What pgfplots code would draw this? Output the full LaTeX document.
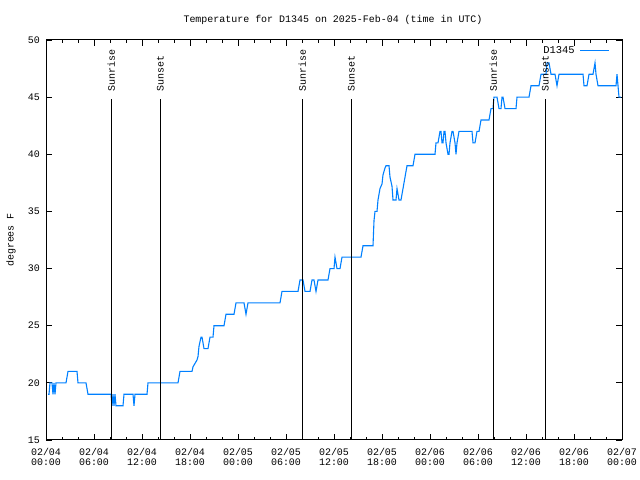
\documentclass[border=0pt]{standalone}
\usepackage{pgfplots}
\pgfplotsset{compat=1.18}
\usepackage{fontspec}
\setmainfont{Liberation Mono}
\definecolor{webblue}{RGB}{0,128,255}
\begin{document}
\begin{tikzpicture}[x=1bp,y=1bp]
\useasboundingbox (0,0) rectangle (640,480);
\begin{axis}[
  at={(46bp,40bp)}, anchor=south west, scale only axis,
  width=576bp, height=400bp,
  xmin=0, xmax=72, ymin=15, ymax=50,
  xtick={0,6,...,72}, minor x tick num=2,
  ytick={15,20,...,50},
  xticklabels={{02/04\\00:00},{02/04\\06:00},{02/04\\12:00},{02/04\\18:00},{02/05\\00:00},{02/05\\06:00},{02/05\\12:00},{02/05\\18:00},{02/06\\00:00},{02/06\\06:00},{02/06\\12:00},{02/06\\18:00},{02/07\\00:00}},
  xticklabel style={align=center, font=\fontsize{10}{10.5}\selectfont, inner sep=0pt, yshift=-8bp},
  yticklabel style={font=\fontsize{10}{10}\selectfont, inner sep=0pt, xshift=-6bp},
  /pgf/number format/assume math mode=true,
  tick align=inside, major tick length=6bp, minor tick length=3bp,
  tick style={black, line width=0.8bp},
  axis line style={line width=1bp},
  legend style={at={(1,1)}, anchor=north east, draw=none, fill=none, font=\fontsize{10.5}{10}\selectfont, inner sep=0pt, xshift=-12bp, yshift=-4bp},
  legend plot pos=right,
  legend cell align=right,
  legend image code/.code={\draw[#1] (0bp,0bp) -- (29bp,0bp);},
  clip=true,
]
\addplot[webblue, line width=1.1bp] table {
x y
0.25 19
0.375 19
0.5 20
0.75 20
0.875 19
1.0 20
1.125 19
1.25 20
2.5 20
2.75 21
3.875 21
4.0 20
5.0 20
5.25 19
8.125 19
8.25 18
8.375 19
8.5 18
8.625 19
8.75 18
9.625 18
9.75 19
10.875 19
11.0 18
11.125 19
12.625 19
12.75 20
16.5 20
16.75 21
18.25 21
18.375 21.4
18.625 21.7
18.875 22
19.0 22.3
19.125 23.2
19.25 23.6
19.375 24
19.5 24
19.75 23
20.25 23
20.5 24
20.875 24
21.0 25
22.25 25
22.5 26
23.5 26
23.75 27
24.75 27
25.0 26
25.25 27
29.25 27
29.5 28
31.5 28
31.75 29
32.125 29
32.375 28
33.0 28
33.25 29
33.5 29
33.75 28
34.0 29
35.25 29
35.5 30
36.0 30
36.125 31
36.375 30
36.75 30
37.0 31
39.375 31
39.625 32
40.875 32
41.0 34.2
41.125 35
41.375 35
41.5 36
41.75 37
42.0 37.4
42.125 38.2
42.375 38.8
42.5 39
42.875 39
43.0 38
43.25 37.2
43.375 36
43.75 36
43.875 37
44.125 36
44.375 36
44.625 37
44.875 38
45.125 39
45.875 39
46.125 40
48.625 40
48.75 41
49.0 41
49.25 42
49.375 42
49.5 41
49.625 41
49.75 42
49.875 42
50.0 41
50.25 40
50.375 40
50.5 41
50.75 42
50.875 42
51.125 41
51.25 40
51.375 41
51.625 42
53.25 42
53.375 41
53.625 41
53.875 42
54.125 42
54.375 43
55.375 43
55.625 44
55.875 44
56.0 45
56.375 45
56.625 44
56.875 44
57.0 45
57.125 45
57.375 44
58.75 44
58.875 45
60.375 45
60.625 46
61.625 46
61.875 47
62.5 47
62.625 48
62.875 48
63.125 47
63.625 47
63.875 46
64.125 47
67.125 47
67.25 46
67.625 46
67.875 47
68.375 47
68.625 48
68.75 47
69.0 46
71.25 46
71.375 47
71.5 46
71.625 45
71.875 45
};
\addlegendentry{D1345\kern3bp}
\addplot[black, line width=1bp, forget plot] coordinates {(8.17,15) (8.17,44.85)};
\addplot[black, line width=1bp, forget plot] coordinates {(14.29,15) (14.29,44.85)};
\addplot[black, line width=1bp, forget plot] coordinates {(32.04,15) (32.04,44.85)};
\addplot[black, line width=1bp, forget plot] coordinates {(38.17,15) (38.17,44.85)};
\addplot[black, line width=1bp, forget plot] coordinates {(55.92,15) (55.92,44.85)};
\addplot[black, line width=1bp, forget plot] coordinates {(62.42,15) (62.42,44.85)};
\node[rotate=90, anchor=west, inner sep=0pt, font=\fontsize{10}{10}\selectfont] at (axis cs:8.17,45.45) {Sunrise};
\node[rotate=90, anchor=west, inner sep=0pt, font=\fontsize{10}{10}\selectfont] at (axis cs:14.29,45.45) {Sunset};
\node[rotate=90, anchor=west, inner sep=0pt, font=\fontsize{10}{10}\selectfont] at (axis cs:32.04,45.45) {Sunrise};
\node[rotate=90, anchor=west, inner sep=0pt, font=\fontsize{10}{10}\selectfont] at (axis cs:38.17,45.45) {Sunset};
\node[rotate=90, anchor=west, inner sep=0pt, font=\fontsize{10}{10}\selectfont] at (axis cs:55.92,45.45) {Sunrise};
\node[rotate=90, anchor=west, inner sep=0pt, font=\fontsize{10}{10}\selectfont] at (axis cs:62.42,45.45) {Sunset};
\end{axis}
\node[font=\fontsize{10}{10}\selectfont] at (333,460) {Temperature for D1345 on 2025-Feb-04 (time in UTC)};
\node[rotate=90, font=\fontsize{10}{10}\selectfont] at (11,240) {degrees F};
\end{tikzpicture}
\end{document}
